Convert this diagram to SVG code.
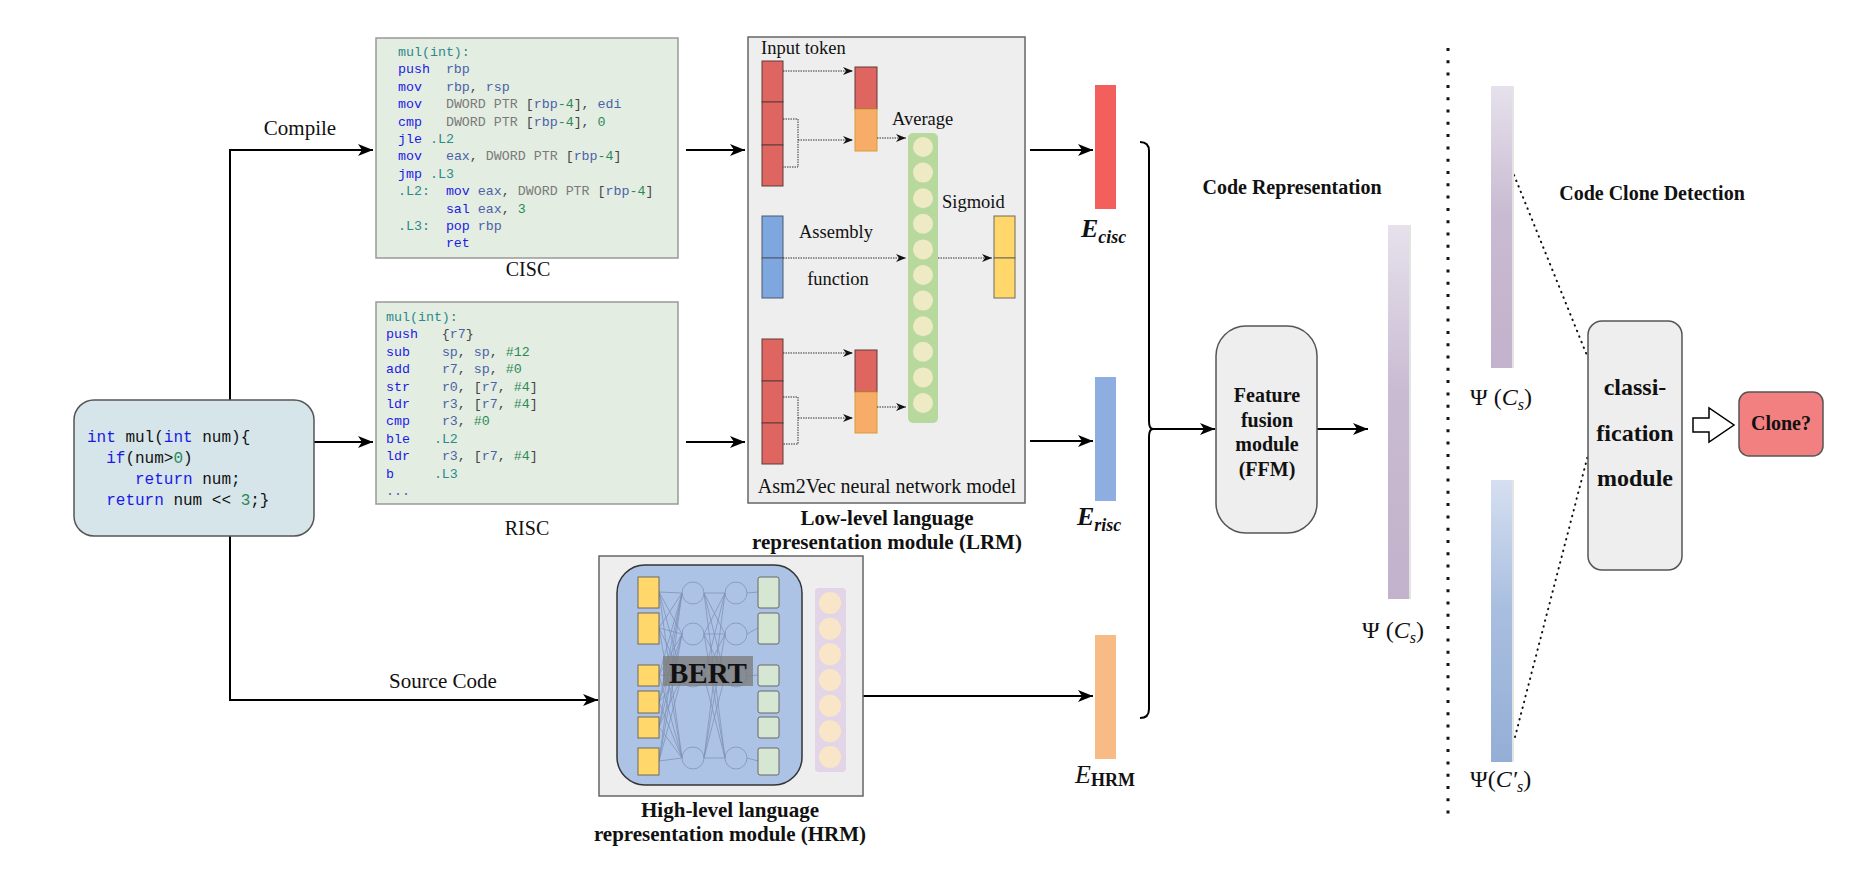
<svg xmlns="http://www.w3.org/2000/svg" width="1860" height="870" viewBox="0 0 1860 870">
<style>
.serif{font-family:"Liberation Serif","Times New Roman",serif;fill:#111}
.b{font-weight:bold}
.code{font-family:"Liberation Mono","Courier New",monospace;font-size:13.3px;white-space:pre;fill:#444}
.src{font-family:"Liberation Mono","Courier New",monospace;font-size:16px;white-space:pre;fill:#111}
.kw{fill:#1a1ae6}
.rg{fill:#4a62a8}
.nm{fill:#2a8a57}
.lb{fill:#2a8a8a}
.gy{fill:#7a7a7a}
.main{fill:none;stroke:#000;stroke-width:2}
.dot{fill:none;stroke:#333;stroke-width:1;stroke-dasharray:1.5 1}
.cellR{fill:#df6660;stroke:#5e3a38;stroke-width:1}
.cellO{fill:#f7ad68;stroke:#d89a3a;stroke-width:1}
.cellB{fill:#7ea6df;stroke:#4d5a6e;stroke-width:1}
.cellY{fill:#ffd76a;stroke:#6e6a5a;stroke-width:1}
.cellG{fill:#d5e6d2;stroke:#666;stroke-width:1}
.gc{fill:#eeeac4}
.pc{fill:#f9e6c8}
.nn{fill:none;stroke:#7f93b8;stroke-width:0.8}
.box{fill:#eeeeee;stroke:#555;stroke-width:1.5}
</style>
<defs>
<marker id="ah" markerUnits="userSpaceOnUse" markerWidth="16" markerHeight="12" refX="15" refY="6" orient="auto">
<path d="M0,0 L15,6 L0,12 L4,6 z" fill="#000"/>
</marker>
<marker id="as" markerUnits="userSpaceOnUse" markerWidth="11" markerHeight="8" refX="10" refY="4" orient="auto">
<path d="M0,0 L10,4 L0,8 L3,4 z" fill="#111"/>
</marker>
<linearGradient id="gp" x1="0" y1="0" x2="0" y2="1">
<stop offset="0" stop-color="#e6e1ec"/>
<stop offset="0.45" stop-color="#c9bbd2"/>
<stop offset="1" stop-color="#c2b2cb"/>
</linearGradient>
<linearGradient id="gb" x1="0" y1="0" x2="0" y2="1">
<stop offset="0" stop-color="#d5dff0"/>
<stop offset="0.45" stop-color="#a9bfe0"/>
<stop offset="1" stop-color="#94aed6"/>
</linearGradient>
</defs>

<!-- connectors -->
<g id="connectors">
<path class="main" d="M230,400 V150 H373" marker-end="url(#ah)"/>
<path class="main" d="M230,536 V700 H598" marker-end="url(#ah)"/>
<path class="main" d="M314,442 H373" marker-end="url(#ah)"/>
<path class="main" d="M686,150 H745" marker-end="url(#ah)"/>
<path class="main" d="M686,442 H745" marker-end="url(#ah)"/>
<path class="main" d="M1030,150 H1093" marker-end="url(#ah)"/>
<path class="main" d="M1030,441 H1093" marker-end="url(#ah)"/>
<path class="main" d="M863,696 H1093" marker-end="url(#ah)"/>
<path class="main" d="M1140,142 Q1149,142 1149,151 V421 Q1149,429 1153,429 Q1149,429 1149,437 V709 Q1149,718 1140,718"/>
<path class="main" d="M1153,429 H1215" marker-end="url(#ah)"/>
<path class="main" d="M1317,429 H1368" marker-end="url(#ah)"/>
<path d="M1514,175 L1588,358" fill="none" stroke="#111" stroke-width="2" stroke-linecap="round" stroke-dasharray="0.5 5.5"/>
<path d="M1515,737 L1588,455" fill="none" stroke="#111" stroke-width="2" stroke-linecap="round" stroke-dasharray="0.5 5.5"/>
<polygon points="1693,418 1709,418 1709,408 1734,425 1709,442 1709,432 1693,432" fill="#fff" stroke="#000" stroke-width="1.5"/>
<text class="serif" x="300" y="135" font-size="21" text-anchor="middle">Compile</text>
<text class="serif" x="443" y="688" font-size="21" text-anchor="middle">Source Code</text>
</g>

<!-- separator -->
<path d="M1448,48 V815" fill="none" stroke="#111" stroke-width="3" stroke-dasharray="3 9.3"/>

<!-- source code -->
<g id="source">
<rect x="74" y="400" width="240" height="136" rx="20" fill="#d6e5ea" stroke="#555" stroke-width="1.5"/>
<text class="src" x="87" y="442" xml:space="preserve"><tspan class="kw">int</tspan> mul(<tspan class="kw">int</tspan> num){</text>
<text class="src" x="87" y="463" xml:space="preserve">  <tspan class="kw">if</tspan>(num&gt;<tspan class="nm">0</tspan>)</text>
<text class="src" x="87" y="484" xml:space="preserve">     <tspan class="kw">return</tspan> num;</text>
<text class="src" x="87" y="505" xml:space="preserve">  <tspan class="kw">return</tspan> num &lt;&lt; <tspan class="nm">3</tspan>;}</text>
</g>

<!-- CISC -->
<g id="cisc">
<rect x="376" y="38" width="302" height="220" fill="#e4ede2" stroke="#999" stroke-width="1.5"/>
<text class="code" x="398" y="56" xml:space="preserve"><tspan class="lb">mul(int):</tspan></text>
<text class="code" x="398" y="73.4" xml:space="preserve"><tspan class="kw">push</tspan>  <tspan class="rg">rbp</tspan></text>
<text class="code" x="398" y="90.8" xml:space="preserve"><tspan class="kw">mov</tspan>   <tspan class="rg">rbp</tspan>, <tspan class="rg">rsp</tspan></text>
<text class="code" x="398" y="108.2" xml:space="preserve"><tspan class="kw">mov</tspan>   <tspan class="gy">DWORD PTR</tspan> [<tspan class="rg">rbp</tspan><tspan class="nm">-4</tspan>], <tspan class="rg">edi</tspan></text>
<text class="code" x="398" y="125.6" xml:space="preserve"><tspan class="kw">cmp</tspan>   <tspan class="gy">DWORD PTR</tspan> [<tspan class="rg">rbp</tspan><tspan class="nm">-4</tspan>], <tspan class="nm">0</tspan></text>
<text class="code" x="398" y="143" xml:space="preserve"><tspan class="kw">jle</tspan> <tspan class="lb">.L2</tspan></text>
<text class="code" x="398" y="160.4" xml:space="preserve"><tspan class="kw">mov</tspan>   <tspan class="rg">eax</tspan>, <tspan class="gy">DWORD PTR</tspan> [<tspan class="rg">rbp</tspan><tspan class="nm">-4</tspan>]</text>
<text class="code" x="398" y="177.8" xml:space="preserve"><tspan class="kw">jmp</tspan> <tspan class="lb">.L3</tspan></text>
<text class="code" x="398" y="195.2" xml:space="preserve"><tspan class="lb">.L2:</tspan>  <tspan class="kw">mov</tspan> <tspan class="rg">eax</tspan>, <tspan class="gy">DWORD PTR</tspan> [<tspan class="rg">rbp</tspan><tspan class="nm">-4</tspan>]</text>
<text class="code" x="398" y="212.6" xml:space="preserve">      <tspan class="kw">sal</tspan> <tspan class="rg">eax</tspan>, <tspan class="nm">3</tspan></text>
<text class="code" x="398" y="230" xml:space="preserve"><tspan class="lb">.L3:</tspan>  <tspan class="kw">pop</tspan> <tspan class="rg">rbp</tspan></text>
<text class="code" x="398" y="247.4" xml:space="preserve">      <tspan class="kw">ret</tspan></text>
<text class="serif" x="528" y="276" font-size="20" text-anchor="middle">CISC</text>
</g>

<!-- RISC -->
<g id="risc">
<rect x="376" y="302" width="302" height="202" fill="#e4ede2" stroke="#999" stroke-width="1.5"/>
<text class="code" x="386" y="321" xml:space="preserve"><tspan class="lb">mul(int):</tspan></text>
<text class="code" x="386" y="338.4" xml:space="preserve"><tspan class="kw">push</tspan>   {<tspan class="rg">r7</tspan>}</text>
<text class="code" x="386" y="355.8" xml:space="preserve"><tspan class="kw">sub</tspan>    <tspan class="rg">sp</tspan>, <tspan class="rg">sp</tspan>, <tspan class="nm">#12</tspan></text>
<text class="code" x="386" y="373.2" xml:space="preserve"><tspan class="kw">add</tspan>    <tspan class="rg">r7</tspan>, <tspan class="rg">sp</tspan>, <tspan class="nm">#0</tspan></text>
<text class="code" x="386" y="390.6" xml:space="preserve"><tspan class="kw">str</tspan>    <tspan class="rg">r0</tspan>, [<tspan class="rg">r7</tspan>, <tspan class="nm">#4</tspan>]</text>
<text class="code" x="386" y="408" xml:space="preserve"><tspan class="kw">ldr</tspan>    <tspan class="rg">r3</tspan>, [<tspan class="rg">r7</tspan>, <tspan class="nm">#4</tspan>]</text>
<text class="code" x="386" y="425.4" xml:space="preserve"><tspan class="kw">cmp</tspan>    <tspan class="rg">r3</tspan>, <tspan class="nm">#0</tspan></text>
<text class="code" x="386" y="442.8" xml:space="preserve"><tspan class="kw">ble</tspan>   <tspan class="lb">.L2</tspan></text>
<text class="code" x="386" y="460.2" xml:space="preserve"><tspan class="kw">ldr</tspan>    <tspan class="rg">r3</tspan>, [<tspan class="rg">r7</tspan>, <tspan class="nm">#4</tspan>]</text>
<text class="code" x="386" y="477.6" xml:space="preserve"><tspan class="kw">b</tspan>     <tspan class="lb">.L3</tspan></text>
<text class="code" x="386" y="495" xml:space="preserve"><tspan class="rg">...</tspan></text>
<text class="serif" x="527" y="535" font-size="20" text-anchor="middle">RISC</text>
</g>

<!-- LRM -->
<g id="lrm">
<rect x="748" y="37" width="277" height="466" fill="#eeeeee" stroke="#666" stroke-width="1.5"/>
<text class="serif" x="761" y="54" font-size="18.5">Input token</text>
<rect class="cellR" x="762" y="61" width="21" height="41"/>
<rect class="cellR" x="762" y="102" width="21" height="43"/>
<rect class="cellR" x="762" y="145" width="21" height="41"/>
<rect class="cellR" x="855" y="67" width="22" height="42"/>
<rect class="cellO" x="855" y="109" width="22" height="42"/>
<path class="dot" d="M783,71 H853" marker-end="url(#as)"/>
<path class="dot" d="M783,119 H798 V167 H783"/>
<path class="dot" d="M798,140 H853" marker-end="url(#as)"/>
<path class="dot" d="M877,138 H906" marker-end="url(#as)"/>
<text class="serif" x="892" y="125" font-size="18.5">Average</text>
<rect x="908" y="133" width="30" height="290" rx="5" fill="#b7d99e"/>
<circle class="gc" cx="923" cy="147" r="10"/>
<circle class="gc" cx="923" cy="172.6" r="10"/>
<circle class="gc" cx="923" cy="198.2" r="10"/>
<circle class="gc" cx="923" cy="223.8" r="10"/>
<circle class="gc" cx="923" cy="249.4" r="10"/>
<circle class="gc" cx="923" cy="275" r="10"/>
<circle class="gc" cx="923" cy="300.6" r="10"/>
<circle class="gc" cx="923" cy="326.2" r="10"/>
<circle class="gc" cx="923" cy="351.8" r="10"/>
<circle class="gc" cx="923" cy="377.4" r="10"/>
<circle class="gc" cx="923" cy="403" r="10"/>
<text class="serif" x="942" y="208" font-size="18.5">Sigmoid</text>
<rect class="cellB" x="762" y="216" width="21" height="42"/>
<rect class="cellB" x="762" y="258" width="21" height="40"/>
<text class="serif" x="836" y="238" font-size="18.5" text-anchor="middle">Assembly</text>
<text class="serif" x="838" y="285" font-size="18.5" text-anchor="middle">function</text>
<path class="dot" d="M783,258 H906" marker-end="url(#as)"/>
<path class="dot" d="M938,258 H992" marker-end="url(#as)"/>
<rect class="cellY" x="994" y="216" width="21" height="42"/>
<rect class="cellY" x="994" y="258" width="21" height="40"/>
<rect class="cellR" x="762" y="339" width="21" height="42"/>
<rect class="cellR" x="762" y="381" width="21" height="42"/>
<rect class="cellR" x="762" y="423" width="21" height="41"/>
<rect class="cellR" x="855" y="350" width="22" height="42"/>
<rect class="cellO" x="855" y="392" width="22" height="41"/>
<path class="dot" d="M783,353 H853" marker-end="url(#as)"/>
<path class="dot" d="M783,397 H798 V444 H783"/>
<path class="dot" d="M798,418 H853" marker-end="url(#as)"/>
<path class="dot" d="M877,407 H906" marker-end="url(#as)"/>
<text class="serif" x="887" y="493" font-size="20" text-anchor="middle">Asm2Vec neural network model</text>
<text class="serif b" x="887" y="525" font-size="21" text-anchor="middle">Low-level language</text>
<text class="serif b" x="887" y="549" font-size="21" text-anchor="middle">representation module (LRM)</text>
</g>

<!-- HRM -->
<g id="hrm">
<rect x="599" y="556" width="264" height="240" fill="#eeeeee" stroke="#666" stroke-width="1.5"/>
<rect x="617" y="565" width="185" height="220" rx="28" fill="#adc3e6" stroke="#333" stroke-width="1.5"/>
<path class="nn" d="M659,592L682,593M659,592L682,634M659,592L682,676M659,592L682,758M659,628L682,593M659,628L682,634M659,628L682,676M659,628L682,758M659,675L682,593M659,675L682,634M659,675L682,676M659,675L682,758M659,702L682,593M659,702L682,634M659,702L682,676M659,702L682,758M659,727L682,593M659,727L682,634M659,727L682,676M659,727L682,758M659,761L682,593M659,761L682,634M659,761L682,676M659,761L682,758M704,593L725,593M704,593L725,634M704,593L725,676M704,593L725,758M704,634L725,593M704,634L725,634M704,634L725,676M704,634L725,758M704,676L725,593M704,676L725,634M704,676L725,676M704,676L725,758M704,758L725,593M704,758L725,634M704,758L725,676M704,758L725,758M747,593L758,592M747,634L758,628M747,676L758,675M747,758L758,761"/>
<circle class="nn" cx="693" cy="593" r="11"/>
<circle class="nn" cx="693" cy="634" r="11"/>
<circle class="nn" cx="693" cy="676" r="11"/>
<circle class="nn" cx="693" cy="758" r="11"/>
<circle class="nn" cx="736" cy="593" r="11"/>
<circle class="nn" cx="736" cy="634" r="11"/>
<circle class="nn" cx="736" cy="676" r="11"/>
<circle class="nn" cx="736" cy="758" r="11"/>
<rect class="cellY" x="638" y="577" width="21" height="31"/>
<rect class="cellY" x="638" y="613" width="21" height="31"/>
<rect class="cellY" x="638" y="665" width="21" height="21"/>
<rect class="cellY" x="638" y="691" width="21" height="22"/>
<rect class="cellY" x="638" y="717" width="21" height="21"/>
<rect class="cellY" x="638" y="748" width="21" height="27"/>
<rect class="cellG" x="758" y="577" width="21" height="31" rx="2"/>
<rect class="cellG" x="758" y="613" width="21" height="31" rx="2"/>
<rect class="cellG" x="758" y="665" width="21" height="21" rx="2"/>
<rect class="cellG" x="758" y="691" width="21" height="22" rx="2"/>
<rect class="cellG" x="758" y="717" width="21" height="21" rx="2"/>
<rect class="cellG" x="758" y="748" width="21" height="27" rx="2"/>
<rect x="663" y="656" width="90" height="30" fill="#7d7d7d" fill-opacity="0.8"/>
<text class="serif b" x="708" y="683" font-size="29" text-anchor="middle">BERT</text>
<rect x="815" y="588" width="31" height="184" rx="4" fill="#e1d5e7"/>
<circle class="pc" cx="830" cy="603" r="11"/>
<circle class="pc" cx="830" cy="628.7" r="11"/>
<circle class="pc" cx="830" cy="654.3" r="11"/>
<circle class="pc" cx="830" cy="680" r="11"/>
<circle class="pc" cx="830" cy="705.7" r="11"/>
<circle class="pc" cx="830" cy="731.3" r="11"/>
<circle class="pc" cx="830" cy="757" r="11"/>
<text class="serif b" x="730" y="817" font-size="21" text-anchor="middle">High-level language</text>
<text class="serif b" x="730" y="841" font-size="21" text-anchor="middle">representation module (HRM)</text>
</g>

<!-- embeddings -->
<g id="e-cisc">
<rect x="1095" y="85" width="21" height="124" fill="#f25f5c"/>
<text class="serif b" x="1081" y="237" font-size="26" font-style="italic">E<tspan font-size="18" dy="6">cisc</tspan></text>
</g>
<g id="e-risc">
<rect x="1095" y="377" width="21" height="124" fill="#8eade0"/>
<text class="serif b" x="1077" y="525" font-size="26" font-style="italic">E<tspan font-size="18" dy="6">risc</tspan></text>
</g>
<g id="e-hrm">
<rect x="1095" y="635" width="21" height="124" fill="#f8bb86"/>
<text class="serif" x="1075" y="783" font-size="26" font-style="italic">E<tspan font-size="18" font-style="normal" font-weight="bold" dy="3">HRM</tspan></text>
</g>

<text class="serif b" x="1292" y="194" font-size="20" text-anchor="middle">Code Representation</text>

<g id="ffm">
<rect x="1216" y="326" width="101" height="207" rx="30" class="box"/>
<text class="serif b" x="1267" y="402" font-size="20" text-anchor="middle">Feature</text>
<text class="serif b" x="1267" y="426.5" font-size="20" text-anchor="middle">fusion</text>
<text class="serif b" x="1267" y="451" font-size="20" text-anchor="middle">module</text>
<text class="serif b" x="1267" y="475.5" font-size="20" text-anchor="middle">(FFM)</text>
</g>

<g id="psi-mid">
<rect x="1388" y="225" width="22" height="374" fill="url(#gp)"/>
<rect x="1409" y="225" width="2" height="374" fill="#e4e4e4"/>
<text class="serif" x="1362" y="638" font-size="24">Ψ (<tspan font-style="italic">C</tspan><tspan font-style="italic" font-size="16" dy="5">s</tspan><tspan dy="-5">)</tspan></text>
</g>

<text class="serif b" x="1652" y="200" font-size="20" text-anchor="middle">Code Clone Detection</text>

<g id="psi-cs">
<rect x="1491" y="86" width="22" height="282" fill="url(#gp)"/>
<rect x="1512" y="86" width="2" height="282" fill="#e4e4e4"/>
<text class="serif" x="1470" y="405" font-size="24">Ψ (<tspan font-style="italic">C</tspan><tspan font-style="italic" font-size="16" dy="5">s</tspan><tspan dy="-5">)</tspan></text>
</g>
<g id="psi-cs2">
<rect x="1491" y="480" width="22" height="282" fill="url(#gb)"/>
<rect x="1512" y="480" width="2" height="282" fill="#e4e4e4"/>
<text class="serif" x="1470" y="787" font-size="24">Ψ(<tspan font-style="italic">C′</tspan><tspan font-style="italic" font-size="16" dy="5">s</tspan><tspan dy="-5">)</tspan></text>
</g>

<g id="classification">
<rect x="1588" y="321" width="94" height="249" rx="14" class="box"/>
<text class="serif b" x="1635" y="395" font-size="24" text-anchor="middle">classi-</text>
<text class="serif b" x="1635" y="441" font-size="24" text-anchor="middle">fication</text>
<text class="serif b" x="1635" y="486" font-size="24" text-anchor="middle">module</text>
</g>

<g id="clone">
<rect x="1739" y="392" width="84" height="64" rx="10" fill="#f28080" stroke="#555" stroke-width="1.5"/>
<text class="serif b" x="1781" y="430" font-size="20" text-anchor="middle">Clone?</text>
</g>
</svg>
